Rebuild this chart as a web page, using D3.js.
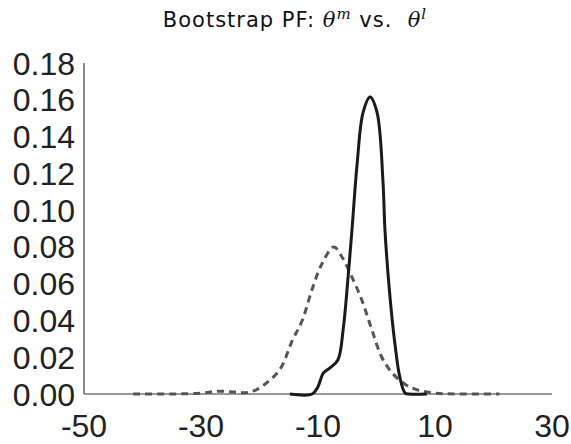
<!DOCTYPE html>
<html>
<head>
<meta charset="utf-8">
<script src="https://cdn.jsdelivr.net/npm/d3@7"></script>
<style>
  body { margin: 0; background: #fff; }
  svg { display: block; }
  .tick-label { font-family: "Liberation Sans", Arial, sans-serif; font-size: 32px; fill: #222; }
  .title { font-family: "DejaVu Sans", sans-serif; font-size: 21px; letter-spacing: 1px; fill: #111; }
</style>
</head>
<body>
<div id="chart"></div>
<script>
var width = 571,
    height = 444,
    margin = {left: 84, top: 63, right: 19, bottom: 50};

// dashed curve (theta^m)
var mX = [-41.6, -35, -30, -27, -24, -22, -20, -16.6, -14.4, -12.7, -11, -9.3, -7.3, -5.9, -4.2, -2.5, -0.8, 0.9, 2.7, 5.0, 7.2, 10, 14, 21];
var mY = [0, 0, 0.0005, 0.0015, 0.001, 0.0008, 0.0033, 0.013, 0.029, 0.040, 0.057, 0.071, 0.080, 0.0745, 0.0636, 0.051, 0.035, 0.020, 0.0114, 0.005, 0.002, 0.0005, 0, 0];

// solid curve (theta^l)
var lX = [-14.8, -11, -10, -9.1, -8.0, -6.6, -5.7, -4.9, -4.2, -3.3, -2.3, -1.1, 0.1, 1.1, 1.45, 2.3, 3.2, 4.0, 4.9, 5.6, 8.6];
var lY = [0, 0, 0.004, 0.0114, 0.0141, 0.0185, 0.035, 0.062, 0.089, 0.1256, 0.153, 0.1615, 0.153, 0.116, 0.089, 0.053, 0.026, 0.009, 0.0005, 0, 0];

var xTicks = [-50, -30, -10, 10, 30];
var yTicks = [0, 0.02, 0.04, 0.06, 0.08, 0.10, 0.12, 0.14, 0.16, 0.18];

var svg = d3.select('#chart').append('svg')
    .attr('width', width)
    .attr('height', height);

var x = d3.scaleLinear().domain([-50, 30]).range([margin.left, width - margin.right]);
var y = d3.scaleLinear().domain([0, 0.18]).range([394, margin.top]);

// axes spines
svg.append('line')
    .attr('x1', x(-50)).attr('x2', x(-50))
    .attr('y1', y(0.18)).attr('y2', y(0))
    .attr('stroke', '#666').attr('stroke-width', 1.5);
svg.append('line')
    .attr('x1', x(-50)).attr('x2', x(30))
    .attr('y1', y(0)).attr('y2', y(0))
    .attr('stroke', '#777').attr('stroke-width', 1.5);

// tick labels
svg.selectAll('.ylab').data(yTicks).enter().append('text')
    .attr('class', 'tick-label')
    .attr('x', 75)
    .attr('y', function(d) { return y(d); })
    .attr('dy', '0.36em')
    .attr('text-anchor', 'end')
    .text(function(d) { return d3.format('.2f')(d); });

svg.selectAll('.xlab').data(xTicks).enter().append('text')
    .attr('class', 'tick-label')
    .attr('x', function(d) { return x(d); })
    .attr('y', 437)
    .attr('text-anchor', 'middle')
    .text(function(d) { return d; });

var line = d3.line()
    .x(function(d) { return x(d[0]); })
    .y(function(d) { return y(d[1]); })
    .curve(d3.curveCatmullRom.alpha(0.5));

svg.append('path')
    .datum(d3.zip(mX, mY))
    .attr('d', line)
    .attr('fill', 'none')
    .attr('stroke', '#555')
    .attr('stroke-width', 3)
    .attr('stroke-dasharray', '7,5');

svg.append('path')
    .datum(d3.zip(lX, lY))
    .attr('d', line)
    .attr('fill', 'none')
    .attr('stroke', '#1a1a1a')
    .attr('stroke-width', 3);

// title
var title = svg.append('text')
    .attr('class', 'title')
    .attr('x', 295)
    .attr('y', 27)
    .attr('text-anchor', 'middle');
title.append('tspan').text('Bootstrap PF: ');
title.append('tspan').attr('font-family', '"DejaVu Serif", serif').attr('font-style', 'italic').text('θ');
title.append('tspan').attr('font-family', '"DejaVu Serif", serif').attr('font-style', 'italic')
    .attr('font-size', '15px').attr('dy', '-8').text('m');
title.append('tspan').attr('dy', '8').attr('xml:space', 'preserve').text(' vs.  ');
title.append('tspan').attr('font-family', '"DejaVu Serif", serif').attr('font-style', 'italic').text('θ');
title.append('tspan').attr('font-family', '"DejaVu Serif", serif').attr('font-style', 'italic')
    .attr('font-size', '15px').attr('dy', '-8').text('l');
</script>
</body>
</html>
